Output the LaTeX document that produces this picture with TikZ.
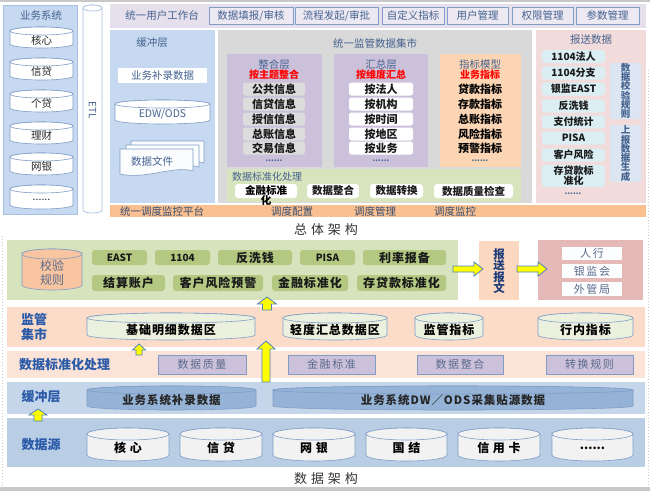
\documentclass[tikz,border=0pt]{standalone}
\usepackage{fontspec}
\setmainfont{Noto Sans CJK SC}
\newfontfamily\lsA[LetterSpace=8]{Noto Sans CJK SC}
\newfontfamily\lsC[LetterSpace=15]{Noto Sans CJK SC}
\newfontfamily\lsB[LetterSpace=30]{Noto Sans CJK SC}
\newcommand\tightls{\lineskiplimit=-20pt\relax\lineskip=0pt\relax}
\definecolor{cBlueL}{HTML}{C6D9F1}
\definecolor{cBlueB}{HTML}{A7BFE0}
\definecolor{cTxt}{HTML}{45628F}
\definecolor{cLav}{HTML}{E5E0EC}
\definecolor{cBtn}{HTML}{ECE9F3}
\definecolor{cLavB}{HTML}{CCC1DA}
\definecolor{cGray}{HTML}{D9D9D9}
\definecolor{cItemG}{HTML}{DCDCDC}
\definecolor{cOrg}{HTML}{FAC090}
\definecolor{cOrgL}{HTML}{FCD5B4}
\definecolor{cGrn}{HTML}{D7E4BD}
\definecolor{cPink}{HTML}{F2DCDB}
\definecolor{cCyan}{HTML}{DBEEF4}
\definecolor{cVBox}{HTML}{DCE6F2}
\definecolor{cRed}{HTML}{FF0000}
\definecolor{cOlive}{HTML}{B3C981}
\definecolor{cGrnP}{HTML}{D6E3BC}
\definecolor{cPeach}{HTML}{FBDCC8}
\definecolor{cPeachL}{HTML}{FBE4D7}
\definecolor{cRowB}{HTML}{C5D6EA}
\definecolor{cRowS}{HTML}{B9CDE5}
\definecolor{cCylB}{HTML}{95B3D7}
\definecolor{cCylG}{HTML}{EBF1DE}
\definecolor{cCylW}{HTML}{F2F2F2}
\definecolor{cEdge}{HTML}{7F9DC6}
\definecolor{cLbl}{HTML}{2A5AA8}
\definecolor{cRose}{HTML}{E5B9B7}
\definecolor{cYel}{HTML}{FFFF00}
\definecolor{cArrB}{HTML}{4F81BD}
\definecolor{cNavy}{HTML}{1F3D7A}
\definecolor{cSoft}{HTML}{5A6A8A}
\definecolor{cOrgC}{HTML}{F9C4A0}
\definecolor{cRep}{HTML}{FBD8C0}
\definecolor{cShade}{HTML}{C8C8C8}

% box node: name x1 y1 x2 y2 style text
\newcommand\bx[7]{\node[inner sep=0pt,outer sep=0pt,minimum width={(#4-#2)*1pt},minimum height={(#5-#3)*1pt},#6] (#1) at ({(#2+#4)/2},{(#3+#5)/2}) {#7};}
% cylinder: name x1 y1 x2 y2 r pathstyle nodestyle text
\newcommand\cyl[9]{%
 \path[#7] ({#2},{#3+#6}) -- ({#2},{#5-#6}) arc[start angle=180,end angle=0,x radius={(#4-#2)/2},y radius={#6}] -- ({#4},{#3+#6}) arc[start angle=0,end angle=-180,x radius={(#4-#2)/2},y radius={#6}] -- cycle;
 \path[#7] ({(#2+#4)/2},{#3+#6}) ellipse[x radius={(#4-#2)/2},y radius={#6}];
 \node[#8] (#1) at ({(#2+#4)/2},{(#3+#5+#6)/2+0.5}) {#9};}
% document sheet: x1 y1 x2 y2
\newcommand\docsheet[4]{\path[docst] (#1,#2) -- (#3,#2) -- (#3,{#4-4}) .. controls ({#3-18},{#4-10}) and ({#1+25},{#4+5}) .. (#1,{#4-1}) -- cycle;}
% up block arrow: x top bottom headw shaftw headl
\newcommand\yup[6]{\path[yarr] ({#1-#5/2},#3) -- ({#1-#5/2},{#2+#6}) -- ({#1-#4/2},{#2+#6}) -- (#1,#2) -- ({#1+#4/2},{#2+#6}) -- ({#1+#5/2},{#2+#6}) -- ({#1+#5/2},#3) -- cycle;}
% right block arrow: x1 x2 yc headh shafth headl
\newcommand\yright[6]{\path[yarr] (#1,{#3-#5/2}) -- ({#2-#6},{#3-#5/2}) -- ({#2-#6},{#3-#4/2}) -- (#2,#3) -- ({#2-#6},{#3+#4/2}) -- ({#2-#6},{#3+#5/2}) -- (#1,{#3+#5/2}) -- cycle;}

\tikzset{
 ttl/.style={inner sep=0pt,text=cTxt,font=\fontsize{10.5}{12}\selectfont},
 redt/.style={inner sep=0pt,text=cRed,font=\fontsize{10}{12}\selectfont\bfseries},
 itm/.style={rounded corners=2.5pt,text=black!90,font=\fontsize{11}{12}\selectfont\bfseries},
 btn/.style={fill=cBtn,draw=cEdge,line width=0.6pt,text=cTxt,font=\fontsize{10.5}{12}\selectfont},
 wbtn/.style={fill=white,rounded corners=3pt,text=black!90,font=\fontsize{10.5}{12}\selectfont\bfseries},
 rep/.style={fill=cCyan,rounded corners=3pt,text=black!90,font=\fontsize{10}{11}\selectfont\bfseries},
 vbox/.style={fill=cVBox,rounded corners=2pt,text=cTxt,align=center,font=\fontsize{9.5}{9.3}\selectfont\bfseries\tightls},
 cylt/.style={inner sep=0pt,text=black!85,font=\fontsize{10.5}{12}\selectfont},
 docst/.style={fill=white!92!cBlueL,draw=cEdge,line width=0.6pt},
 gb/.style={fill=cOlive,rounded corners=3pt,text=black!90,font=\lsA\fontsize{12}{13}\selectfont\bfseries},
 gbl/.style={fill=cOlive,rounded corners=3pt,text=black!90,font=\fontsize{10}{12}\selectfont\bfseries},
 lbl/.style={inner sep=0pt,text=cLbl,align=left,font=\fontsize{13}{15.5}\selectfont\bfseries},
 stdbox/.style={fill=cLavB,draw=cEdge,line width=0.6pt,text=cSoft,font=\lsC\fontsize{11}{12}\selectfont},
 wbox/.style={fill=white!95!cBlueL,text=cSoft,font=\lsC\fontsize{11}{12}\selectfont},
 yarr/.style={fill=cYel,draw=cArrB,line width=0.8pt,line join=miter},
 bigt/.style={inner sep=0pt,text=black!80,font=\lsB\fontsize{13}{15}\selectfont},
 dots/.style={inner sep=0pt,font=\fontsize{8}{9}\selectfont\bfseries,text=cTxt},
}

\begin{document}
\begin{tikzpicture}[x=1pt,y=-1pt]
\useasboundingbox (0,0) rectangle (650,491);
\fill[white] (0,0) rectangle (650,491);
\fill[cShade] (0,0) rectangle (650,2);
\fill[cShade] (0,487) rectangle (650,491);
\draw[cShade,dotted,line width=1pt] (2,236) -- (2,486);
\draw[cShade,dotted,line width=1pt] (648,70) -- (648,486);

% ================= TOP: overall architecture =================
\bx{sysp}{3}{5}{77}{214}{fill=cBlueL,draw=cBlueB,line width=0.6pt}{}
\node[ttl] (systt) at (41,15) {业务系统};
\cyl{s1}{10}{27}{73}{48}{4}{fill=white,draw=cEdge,line width=0.6pt}{cylt}{核心}
\cyl{s2}{10}{58}{73}{80}{4}{fill=white,draw=cEdge,line width=0.6pt}{cylt}{信贷}
\cyl{s3}{10}{90}{73}{112}{4}{fill=white,draw=cEdge,line width=0.6pt}{cylt}{个贷}
\cyl{s4}{10}{122}{73}{144}{4}{fill=white,draw=cEdge,line width=0.6pt}{cylt}{理财}
\cyl{s5}{10}{153}{73}{175}{4}{fill=white,draw=cEdge,line width=0.6pt}{cylt}{网银}
\cyl{s6}{10}{185}{73}{209}{4}{fill=white,draw=cEdge,line width=0.6pt}{cylt}{......}
\cyl{etlc}{83}{5}{102}{213}{3}{fill=white,draw=cBlueB,line width=0.7pt}{cylt}{}
\node[inner sep=0pt,rotate=-90,text=cTxt,font=\fontsize{10}{12}\selectfont] (etl) at (92.5,110) {ETL};

\bx{uwb}{110}{4}{646}{28}{fill=cLav}{}
\node[ttl] (uwbt) at (162,16) {统一用户工作台};
\bx{u1}{209}{7}{293}{24}{btn}{数据填报/审核}
\bx{u2}{295}{7}{378}{24}{btn}{流程发起/审批}
\bx{u3}{382}{7}{444}{24}{btn}{自定义指标}
\bx{u4}{447}{7}{508}{24}{btn}{用户管理}
\bx{u5}{512}{7}{573}{24}{btn}{权限管理}
\bx{u6}{576}{7}{639}{24}{btn}{参数管理}

\bx{bufp}{110}{30}{215}{203}{fill=cBlueL}{}
\node[ttl] (buft) at (152,43) {缓冲层};
\bx{bufa}{118}{68}{207}{83}{fill=white,text=cTxt,font=\fontsize{10.5}{12}\selectfont}{业务补录数据}
\cyl{edw}{115}{100}{210}{124}{4}{fill=white,draw=cEdge,line width=0.6pt}{cylt,text=cTxt}{EDW/ODS}
\docsheet{131}{141}{204}{167}
\docsheet{126}{145}{199}{171}
\docsheet{120}{149}{193}{175}
\node[ttl] (docs) at (152,161) {数据文件};

\bx{martp}{218}{30}{532}{203}{fill=cGray}{}
\node[ttl] (martt) at (375,43) {统一监管数据集市};
\bx{intp}{227}{54}{322}{167}{fill=cLavB}{}
\node[ttl] (intt) at (274,65) {整合层};
\node[redt] (intr) at (274,75) {按主题整合};
\bx{i1}{243}{82.5}{305}{95.5}{itm,fill=cItemG}{公共信息}
\bx{i2}{243}{97.5}{305}{110.5}{itm,fill=cItemG}{信贷信息}
\bx{i3}{243}{112.5}{305}{125.5}{itm,fill=cItemG}{授信信息}
\bx{i4}{243}{127.5}{305}{140.5}{itm,fill=cItemG}{总账信息}
\bx{i5}{243}{141.5}{305}{154.5}{itm,fill=cItemG}{交易信息}
\node[dots] (idots) at (274,160.5) {......};
\bx{sump}{334}{54}{428}{167}{fill=cLavB}{}
\node[ttl] (sumt) at (381,65) {汇总层};
\node[redt] (sumr) at (381,75) {按维度汇总};
\bx{h1}{349}{82.5}{413}{95.5}{itm,fill=white}{按法人}
\bx{h2}{349}{97.5}{413}{110.5}{itm,fill=white}{按机构}
\bx{h3}{349}{112.5}{413}{125.5}{itm,fill=white}{按时间}
\bx{h4}{349}{127.5}{413}{140.5}{itm,fill=white}{按地区}
\bx{h5}{349}{141.5}{413}{154.5}{itm,fill=white}{按业务}
\node[dots] (hdots) at (381,160.5) {......};
\bx{indp}{440}{54}{521}{167}{fill=cOrgL}{}
\node[ttl] (indt) at (480,65) {指标模型};
\node[redt] (indr) at (480,75) {业务指标};
\node[inner sep=0pt,font=\fontsize{11}{12}\selectfont\bfseries] (k1) at (480,89) {贷款指标};
\node[inner sep=0pt,font=\fontsize{11}{12}\selectfont\bfseries] (k2) at (480,104) {存款指标};
\node[inner sep=0pt,font=\fontsize{11}{12}\selectfont\bfseries] (k3) at (480,119) {总账指标};
\node[inner sep=0pt,font=\fontsize{11}{12}\selectfont\bfseries] (k4) at (480,134) {风险指标};
\node[inner sep=0pt,font=\fontsize{11}{12}\selectfont\bfseries] (k5) at (480,148) {预警指标};
\node[dots] (kdots) at (480,160.5) {......};
\bx{stdp}{227}{169}{521}{202}{fill=cGrn}{}
\node[ttl,anchor=west,font=\fontsize{10}{12}\selectfont] (stdt) at (232,177) {数据标准化处理};
\bx{g1}{235}{184}{297}{198}{wbtn}{}
\node[inner sep=0pt,anchor=north,align=center,font=\fontsize{10.5}{10}\selectfont\bfseries\tightls] (g1t) at (266,185.5) {金融标准\\化};
\bx{g2}{307}{184}{359}{198}{wbtn}{数据整合}
\bx{g3}{370}{184}{423}{198}{wbtn}{数据转换}
\bx{g4}{434}{184}{513}{198}{wbtn}{数据质量检查}

\bx{repp}{536}{30}{646}{203}{fill=cPink}{}
\node[ttl] (rept) at (591,40) {报送数据};
\bx{r1}{542}{50}{605}{63}{rep}{1104法人}
\bx{r2}{542}{66.5}{605}{79.5}{rep}{1104分支}
\bx{r3}{542}{82.5}{605}{95.5}{rep}{银监EAST}
\bx{r4}{542}{99.5}{605}{112.5}{rep}{反洗钱}
\bx{r5}{542}{115.5}{605}{128.5}{rep}{支付统计}
\bx{r6}{542}{131.5}{605}{144.5}{rep}{PISA}
\bx{r7}{542}{148.5}{605}{161.5}{rep}{客户风险}
\bx{r8}{542}{165}{605}{187}{rep,align=center,font=\fontsize{10}{10}\selectfont\bfseries\tightls}{存贷款标\\准化}
\node[dots] (rdots) at (573,194) {......};
\bx{v1}{610}{63}{641}{119}{vbox}{数\\据\\校\\验\\规\\则}
\bx{v2}{610}{125}{641}{182}{vbox}{上\\报\\数\\据\\生\\成}

\bx{sched}{110}{205}{646}{217}{fill=cOrg}{}
\node[ttl,text=cTxt!80!black] (schedt) at (162,211) {统一调度监控平台};
\node[ttl,text=cTxt!80!black] (sc1) at (292,211.5) {调度配置};
\node[ttl,text=cTxt!80!black] (sc2) at (375,211.5) {调度管理};
\node[ttl,text=cTxt!80!black] (sc3) at (455,211.5) {调度监控};

\node[bigt] (title1) at (326,230) {总体架构};

% ================= BOTTOM: data architecture =================
\bx{grnp}{7}{240}{458}{300}{fill=cGrnP}{}
\cyl{rule}{22}{249}{82}{290}{5}{fill=cOrgC,draw=cEdge,line width=0.6pt}{inner sep=0pt,align=center,text=cSoft,font=\fontsize{12}{14}\selectfont}{校验\\规则}
\bx{e1}{92}{250}{147}{265}{gbl}{EAST}
\bx{e2}{155}{250}{210}{265}{gbl}{1104}
\bx{e3}{218}{250}{292}{265}{gb}{反洗钱}
\bx{e4}{300}{250}{355}{265}{gbl}{PISA}
\bx{e5}{363}{250}{446}{265}{gb}{利率报备}
\bx{f1}{92}{275}{165}{291}{gb}{结算账户}
\bx{f2}{173}{275}{263}{291}{gb}{客户风险预警}
\bx{f3}{272}{275}{348}{291}{gb}{金融标准化}
\bx{f4}{357}{275}{446}{291}{gb}{存贷款标准化}

\bx{msg}{479}{241}{519}{300}{fill=cRep}{}
\node[inner sep=0pt,align=center,text=cNavy,font=\fontsize{11.5}{11.3}\selectfont\bfseries\tightls] (msgt) at (499,271) {报\\送\\报\\文};
\bx{regp}{538}{240}{643}{300}{fill=cRose}{}
\bx{rg1}{562}{247}{622}{260}{wbox}{人行}
\bx{rg2}{562}{264}{622}{278}{wbox}{银监会}
\bx{rg3}{562}{282}{622}{296}{wbox}{外管局}
\yright{453}{483}{269}{14}{6}{9}
\yright{517}{547}{269}{14}{6}{9}

\bx{row1}{7}{307}{645}{347}{fill=cPeach}{}
\node[lbl] (row1t) at (34,327) {监管\\集市};
\cyl{m1}{87}{313}{255}{340}{5}{fill=cCylG,draw=cEdge,line width=0.6pt}{inner sep=0pt,font=\lsA\fontsize{12}{13}\selectfont\bfseries}{基础明细数据区}
\cyl{m2}{283}{313}{387}{340}{5}{fill=cCylG,draw=cEdge,line width=0.6pt}{inner sep=0pt,font=\lsA\fontsize{12}{13}\selectfont\bfseries}{轻度汇总数据区}
\cyl{m3}{415}{313}{483}{340}{5}{fill=cCylG,draw=cEdge,line width=0.6pt}{inner sep=0pt,font=\lsA\fontsize{12}{13}\selectfont\bfseries}{监管指标}
\cyl{m4}{538}{313}{633}{340}{5}{fill=cCylG,draw=cEdge,line width=0.6pt}{inner sep=0pt,font=\lsA\fontsize{12}{13}\selectfont\bfseries}{行内指标}

\bx{row2}{7}{351}{645}{378}{fill=cPeachL}{}
\node[lbl,anchor=west] (row2t) at (19,364.5) {数据标准化处理};
\bx{n1}{158}{355}{246}{374}{stdbox}{数据质量}
\bx{n2}{288}{355}{375}{374}{stdbox}{金融标准}
\bx{n3}{417}{355}{503}{374}{stdbox}{数据整合}
\bx{n4}{546}{355}{633}{374}{stdbox}{转换规则}

\bx{row3}{7}{382}{645}{414}{fill=cRowB}{}
\node[lbl] (row3t) at (41,397) {缓冲层};
\cyl{b1}{87}{386}{256}{410}{4}{fill=cCylB,draw=cEdge,line width=0.6pt}{inner sep=0pt,text=black!85,font=\lsA\fontsize{11.5}{13}\selectfont\bfseries}{业务系统补录数据}
\cyl{b2}{273}{386}{633}{410}{4}{fill=cCylB,draw=cEdge,line width=0.6pt}{inner sep=0pt,text=black!85,font=\lsA\fontsize{11.5}{13}\selectfont\bfseries}{业务系统DW／ODS采集贴源数据}

\bx{row4}{7}{418}{645}{467}{fill=cRowS}{}
\node[lbl] (row4t) at (41,445) {数据源};
\cyl{d1}{87}{428}{169}{461}{6}{fill=cCylW,draw=cEdge,line width=0.6pt}{inner sep=0pt,font=\lsB\fontsize{12}{13}\selectfont\bfseries}{核心}
\cyl{d2}{180}{428}{262}{461}{6}{fill=cCylW,draw=cEdge,line width=0.6pt}{inner sep=0pt,font=\lsB\fontsize{12}{13}\selectfont\bfseries}{信贷}
\cyl{d3}{273}{428}{355}{461}{6}{fill=cCylW,draw=cEdge,line width=0.6pt}{inner sep=0pt,font=\lsB\fontsize{12}{13}\selectfont\bfseries}{网银}
\cyl{d4}{366}{428}{447}{461}{6}{fill=cCylW,draw=cEdge,line width=0.6pt}{inner sep=0pt,font=\lsB\fontsize{12}{13}\selectfont\bfseries}{国结}
\cyl{d5}{458}{428}{540}{461}{6}{fill=cCylW,draw=cEdge,line width=0.6pt}{inner sep=0pt,font=\lsB\fontsize{12}{13}\selectfont\bfseries}{信用卡}
\cyl{d6}{552}{428}{633}{461}{6}{fill=cCylW,draw=cEdge,line width=0.6pt}{inner sep=0pt,font=\fontsize{12}{13}\selectfont\bfseries}{......}

\yup{267}{297}{310}{19}{9}{7}
\yup{139}{344}{355}{13}{6}{6}
\yup{266}{341}{382}{18}{8}{8}
\yup{38}{409}{421}{18}{8}{6}

\node[bigt] (title2) at (326,479) {数据架构};
\end{tikzpicture}
\end{document}
